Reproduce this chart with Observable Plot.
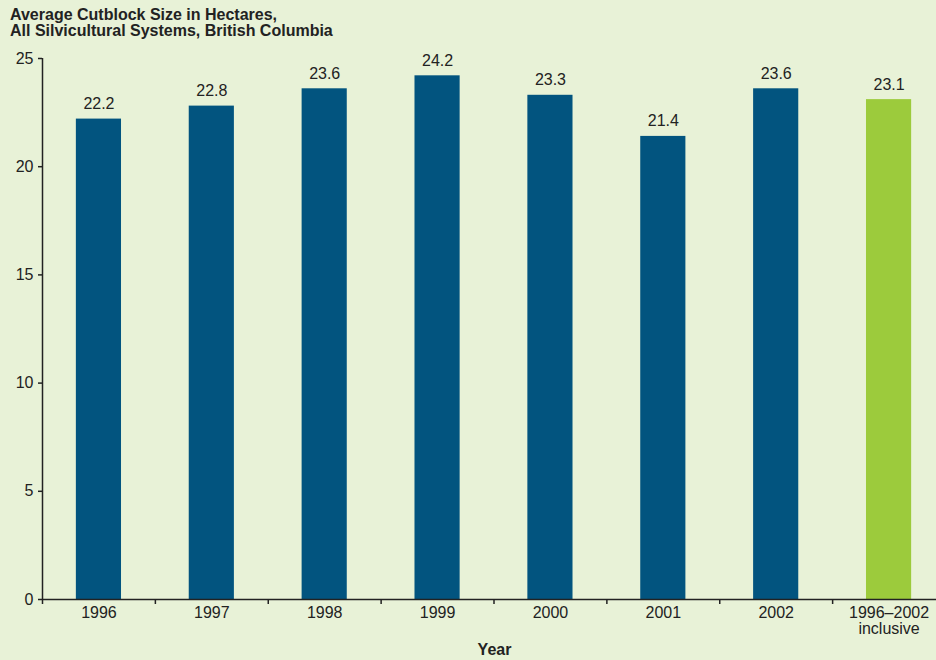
<!DOCTYPE html>
<html>
<head>
<meta charset="utf-8">
<script src="https://cdn.jsdelivr.net/npm/d3@7"></script>
<script src="https://cdn.jsdelivr.net/npm/@observablehq/plot@0.6"></script>
<style>
  html, body { margin: 0; padding: 0; background: #e8f2d7; }
  body { width: 936px; height: 660px; overflow: hidden; font-family: "Liberation Sans", Arial, sans-serif; }
  #title { box-sizing: border-box; height: 40px; padding: 7px 0 0 10px; font-weight: bold; font-size: 16px; line-height: 15.5px; color: #222; }
</style>
</head>
<body>
<div id="title">Average Cutblock Size in Hectares,<br>All Silvicultural Systems, British Columbia</div>
<div id="chart"></div>
<script>
const categories = ["1996", "1997", "1998", "1999", "2000", "2001", "2002", "1996–2002"];
const values = [22.2, 22.8, 23.6, 24.2, 23.3, 21.4, 23.6, 23.1];
const tickLabels = ["1996", "1997", "1998", "1999", "2000", "2001", "2002", "1996–2002\ninclusive"];
const yTicks = [0, 5, 10, 15, 20, 25];

const BLUE = "#02547f";
const GREEN = "#9ccb3c";
const INK = "#222";

const data = categories.map((c, i) => ({cat: c, value: values[i], summary: i === categories.length - 1}));

const xRange = [42, 945];
const step = (xRange[1] - xRange[0]) / categories.length;

const chart = Plot.plot({
  width: 936,
  height: 620,
  marginTop: 18,
  marginBottom: 61,
  marginLeft: 42,
  marginRight: 0,
  style: {background: "transparent", fontFamily: "Liberation Sans, Arial, sans-serif", fontSize: "16px", color: INK},
  x: {domain: categories, range: xRange, paddingInner: 0.6, paddingOuter: 0.3, round: false, axis: null},
  y: {domain: [0, 25], axis: null},
  marks: [
    Plot.barY(data, {x: "cat", y: "value", fill: d => d.summary ? GREEN : BLUE}),
    Plot.text(data, {x: "cat", y: "value", text: d => d.value.toFixed(1), dy: -10, lineAnchor: "bottom", fill: INK, fontSize: 16}),
    // y axis ticks and labels
    Plot.axisY({ticks: yTicks, tickSize: 4, tickPadding: 5, label: null, fontSize: 16, color: INK, strokeWidth: 1.5}),
    // y axis line at the left edge of the first category
    Plot.ruleX([categories[0]], {x: d => d, y1: 0, y2: 25, dx: -step / 2, stroke: INK, strokeWidth: 1.5}),
    // x axis line
    Plot.ruleY([0], {stroke: INK, strokeWidth: 1.5}),
    // x ticks at category boundaries
    Plot.axisX({ticks: categories, tickSize: 5, text: null, label: null, dx: -step / 2, stroke: INK, strokeWidth: 1.5}),
    // x tick labels
    Plot.axisX({ticks: categories, tickSize: 0, tickPadding: 7, label: null, tickFormat: d => tickLabels[categories.indexOf(d)], fontSize: 16, color: INK, lineHeight: 1}),
    Plot.text(["Year"], {frameAnchor: "bottom", dx: 5, dy: 55, fontWeight: "bold", fontSize: 16, fill: INK})
  ]
});
document.getElementById("chart").appendChild(chart);
</script>
</body>
</html>
